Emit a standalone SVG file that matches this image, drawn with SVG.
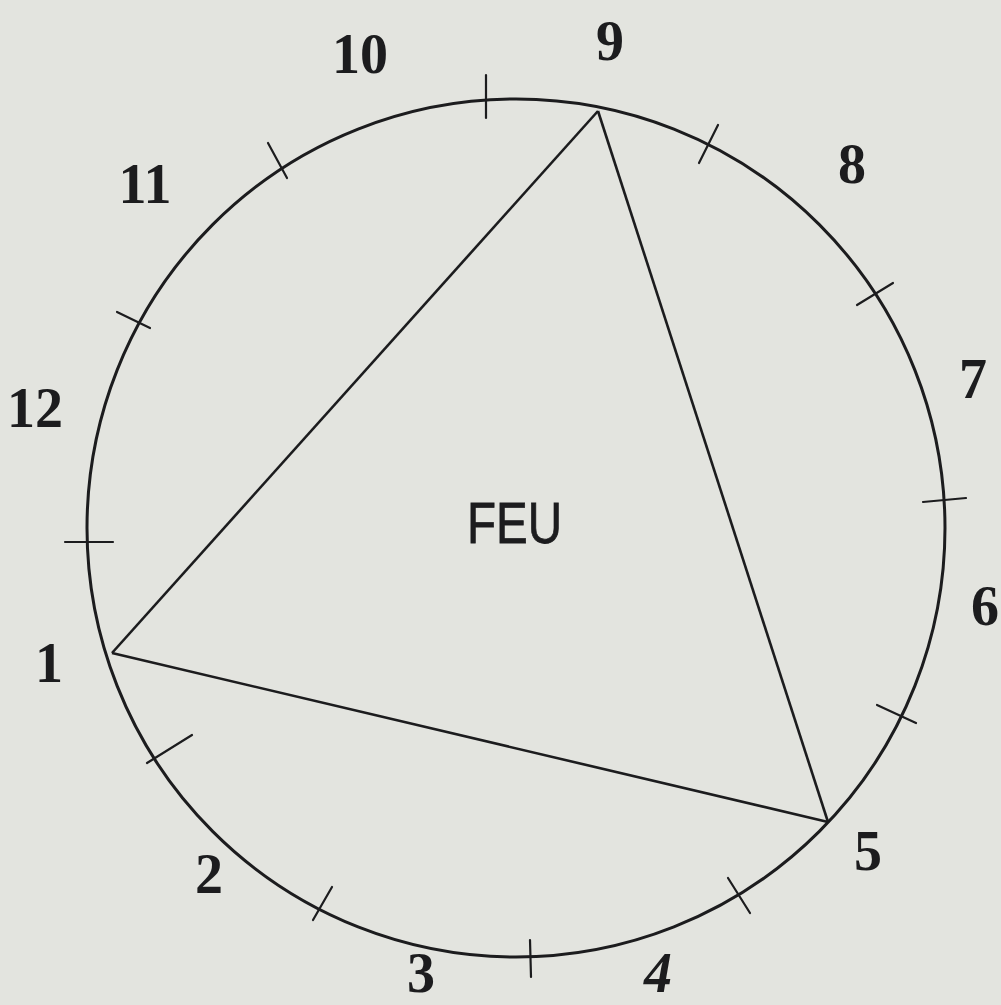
<svg xmlns="http://www.w3.org/2000/svg" width="1001" height="1005" viewBox="0 0 1001 1005">
<style>
.bg{fill:#e3e4df}
.ring{fill:none;stroke:#1c1c1e;stroke-width:3}
.tick{stroke:#1c1c1e;stroke-width:2.2;stroke-linecap:round}
.edge{fill:none;stroke:#1c1c1e;stroke-width:2.6;stroke-linejoin:miter}
.num{font-family:"Liberation Serif","DejaVu Serif",serif;font-weight:bold;font-size:56px;fill:#1c1c1e;text-anchor:middle}
.center{font-family:"Liberation Sans","DejaVu Sans",sans-serif;font-size:58px;fill:#1c1c1e;stroke:#1c1c1e;stroke-width:0.8}
</style>
<rect class="bg" x="0" y="0" width="1001" height="1005"/>
<g id="dial">
<circle class="ring" cx="516" cy="528" r="429"/>
</g>
<g id="ticks">
<line class="tick" x1="486" y1="75" x2="486" y2="118"/>
<line class="tick" x1="718" y1="125" x2="699" y2="163"/>
<line class="tick" x1="857" y1="305" x2="893" y2="283"/>
<line class="tick" x1="923" y1="502" x2="966" y2="498"/>
<line class="tick" x1="877" y1="705" x2="916" y2="723"/>
<line class="tick" x1="728" y1="878" x2="750" y2="913"/>
<line class="tick" x1="530" y1="940" x2="531" y2="977"/>
<line class="tick" x1="332" y1="887" x2="313" y2="920"/>
<line class="tick" x1="147" y1="763" x2="192" y2="735"/>
<line class="tick" x1="65" y1="542" x2="113" y2="542"/>
<line class="tick" x1="117" y1="312" x2="150" y2="328"/>
<line class="tick" x1="268" y1="143" x2="287" y2="178"/>
</g>
<g id="connectors">
<line class="edge" x1="598" y1="111" x2="112" y2="653"/>
<line class="edge" x1="112" y1="653" x2="828" y2="822"/>
<line class="edge" x1="828" y1="822" x2="598" y2="111"/>
</g>
<g id="label-1"><text class="num" x="49" y="682">1</text></g>
<g id="label-2"><text class="num" x="209" y="893">2</text></g>
<g id="label-3"><text class="num" x="421" y="992">3</text></g>
<g id="label-4"><text class="num" x="658" y="992" font-style="italic">4</text></g>
<g id="label-5"><text class="num" x="868" y="870">5</text></g>
<g id="label-6"><text class="num" x="985" y="625">6</text></g>
<g id="label-7"><text class="num" x="973" y="398">7</text></g>
<g id="label-8"><text class="num" x="852" y="183" font-size="62">8</text></g>
<g id="label-9"><text class="num" x="610" y="60">9</text></g>
<g id="label-10"><text class="num" x="360" y="73">10</text></g>
<g id="label-11"><text class="num" x="145" y="203">11</text></g>
<g id="label-12"><text class="num" x="35" y="427">12</text></g>
<g id="label-feu"><text class="center" x="467" y="543" textLength="95" lengthAdjust="spacingAndGlyphs">FEU</text></g>
</svg>
